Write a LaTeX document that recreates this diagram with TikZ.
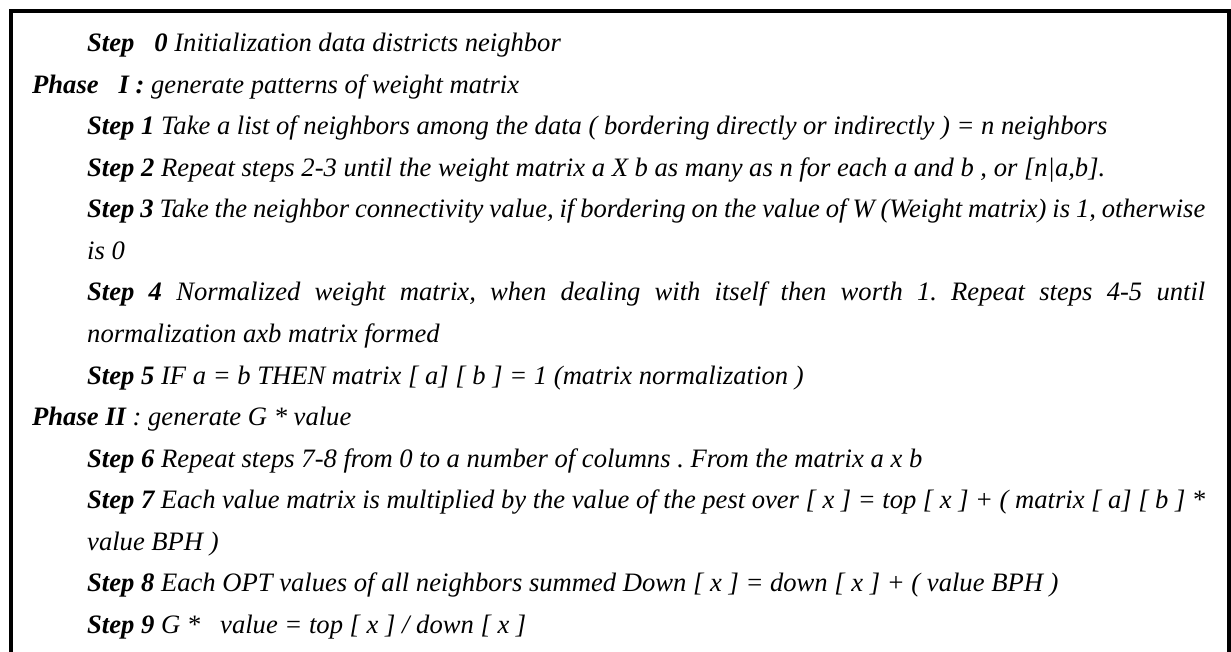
\documentclass[tikz,border=0pt]{standalone}
\usepackage{fontspec}
\setmainfont{Liberation Serif}
\begin{document}
\frenchspacing
\begin{tikzpicture}[x=1pt,y=-1pt,
  ln/.style={anchor=base west, inner sep=0pt, font=\fontsize{26.6}{31}\selectfont\itshape\frenchspacing},
  frame/.style={line width=4pt, black}]
\useasboundingbox (0,0) rectangle (1231,652);
\def\jw{1118pt}
\coordinate (tl) at (10.5,11.5);
\coordinate (tr) at (1229,11.5);
\coordinate (bl) at (10.5,652);
\coordinate (br) at (1229,652);
\draw[frame] (bl) -- (tl) -- (tr) -- (br);
\node[ln] (l0) at (87,52) {\textbf{Step\ \ \ 0} Initialization data districts neighbor};
\node[ln] (l1) at (32,93.5) {\textbf{Phase\ \ \ I :} generate patterns of weight matrix};
\node[ln] (l2) at (87,135) {\textbf{Step 1} Take a list of neighbors among the data ( bordering directly or indirectly ) = n neighbors};
\node[ln] (l3) at (87,176.5) {\textbf{Step 2} Repeat steps 2-3 until the weight matrix a X b as many as n for each a and b , or [n|a,b].};
\node[ln] (l4) at (87,218) {\makebox[\jw][s]{\textbf{Step 3} Take the neighbor connectivity value, if bordering on the value of W (Weight matrix) is 1, otherwise}};
\node[ln] (l5) at (87,259.5) {is 0};
\node[ln] (l6) at (87,301) {\makebox[\jw][s]{\textbf{Step 4} Normalized weight matrix, when dealing with itself then worth 1. Repeat steps 4-5 until}};
\node[ln] (l7) at (87,342.5) {normalization axb matrix formed};
\node[ln] (l8) at (87,384) {\textbf{Step 5} IF a = b THEN matrix [ a] [ b ] = 1 (matrix normalization )};
\node[ln] (l9) at (32,425.5) {\textbf{Phase II} : generate G * value};
\node[ln] (l10) at (87,467) {\textbf{Step 6} Repeat steps 7-8 from 0 to a number of columns . From the matrix a x b};
\node[ln] (l11) at (87,508.5) {\makebox[\jw][s]{\textbf{Step 7} Each value matrix is multiplied by the value of the pest over [ x ] = top [ x ] + ( matrix [ a] [ b ] *}};
\node[ln] (l12) at (87,550) {value BPH )};
\node[ln] (l13) at (87,591.5) {\textbf{Step 8} Each OPT values of all neighbors summed Down [ x ] = down [ x ] + ( value BPH )};
\node[ln] (l14) at (87,633) {\textbf{Step 9} G *\ \ \ value = top [ x ] / down [ x ]};
\end{tikzpicture}
\end{document}
